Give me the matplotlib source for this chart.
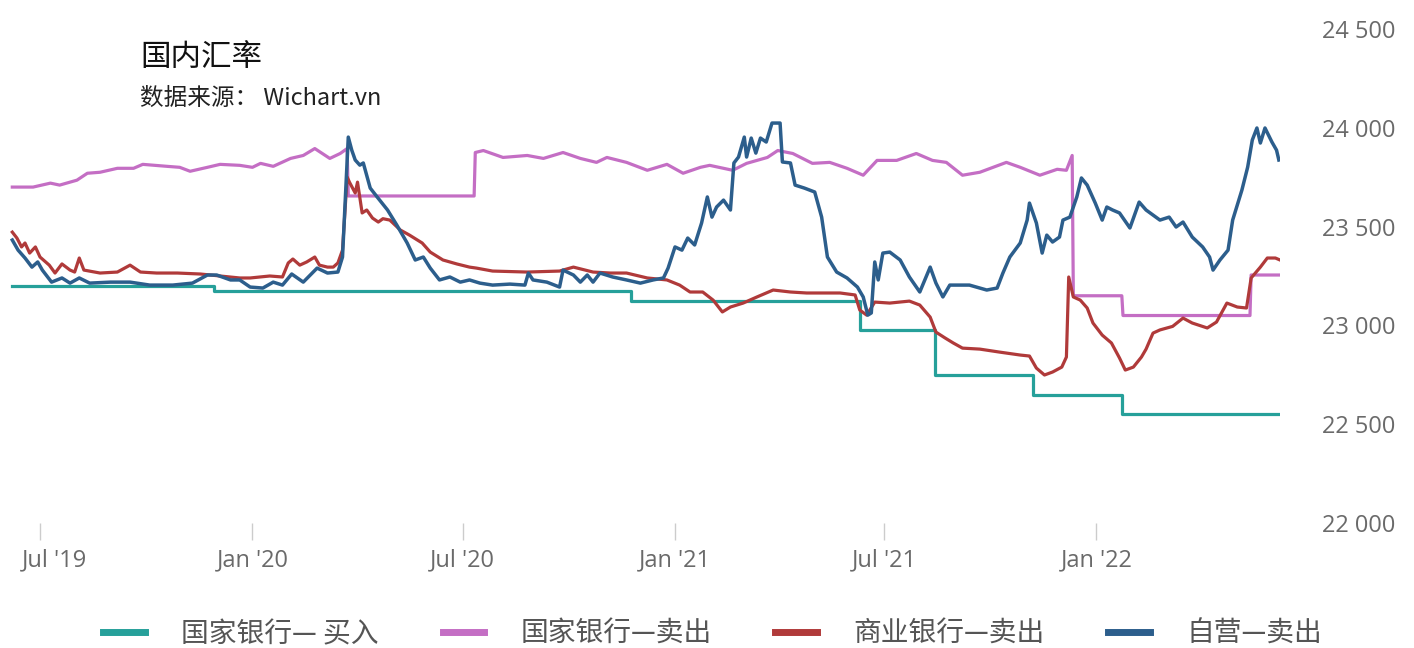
import matplotlib
matplotlib.use("Agg")
import matplotlib.pyplot as plt
import matplotlib.dates as mdates
import matplotlib.transforms as mtransforms
from matplotlib.ticker import FuncFormatter
import pandas as pd

plt.rcParams["font.family"] = ["Noto Sans CJK SC", "DejaVu Sans"]

# 国家银行—买入 (step series)
sbv_buy_dates = ["2019-06-07", "2019-11-29", "2020-11-24", "2021-06-10",
                 "2021-08-14", "2021-11-07", "2022-01-23", "2022-06-09"]
sbv_buy_vals = [23200, 23175, 23125, 22975, 22750, 22650, 22550, 22550]

# 国家银行—卖出
sbv_sell_dates = [
    "2019-06-07", "2019-06-25", "2019-07-10", "2019-07-18", "2019-08-02", "2019-08-11",
    "2019-08-22", "2019-09-06", "2019-09-20", "2019-09-28", "2019-10-19", "2019-10-30",
    "2019-11-08", "2019-11-23", "2019-12-04", "2019-12-21", "2020-01-01", "2020-01-08",
    "2020-01-19", "2020-02-03", "2020-02-14", "2020-02-24", "2020-03-08", "2020-03-17",
    "2020-03-23", "2020-03-24", "2020-07-11", "2020-07-12", "2020-07-19", "2020-08-05",
    "2020-08-26", "2020-09-09", "2020-09-26", "2020-10-11", "2020-10-25", "2020-11-03",
    "2020-11-20", "2020-12-08", "2020-12-25", "2021-01-08", "2021-01-23", "2021-01-31",
    "2021-02-20", "2021-03-04", "2021-03-22", "2021-03-31", "2021-04-13", "2021-04-30",
    "2021-05-15", "2021-05-30", "2021-06-13", "2021-06-25", "2021-07-12", "2021-07-29",
    "2021-08-12", "2021-08-24", "2021-09-07", "2021-09-22", "2021-10-15", "2021-10-27",
    "2021-11-13", "2021-11-28", "2021-12-06", "2021-12-11", "2021-12-12", "2022-01-23",
    "2022-01-24", "2022-05-14", "2022-05-15", "2022-06-09",
]
sbv_sell_vals = [
    23700, 23700, 23720, 23710, 23735, 23770,
    23775, 23795, 23795, 23815, 23805, 23800,
    23780, 23800, 23815, 23810, 23800, 23820,
    23805, 23845, 23860, 23895, 23845, 23870,
    23895, 23655, 23655, 23875, 23885, 23850,
    23860, 23845, 23875, 23845, 23825, 23850,
    23825, 23785, 23815, 23770, 23800, 23810,
    23785, 23820, 23850, 23885, 23870, 23820,
    23825, 23795, 23760, 23835, 23835, 23870,
    23835, 23825, 23760, 23775, 23825, 23800,
    23760, 23790, 23785, 23860, 23150, 23150,
    23050, 23050, 23255, 23255,
]

# 商业银行—卖出
bank_sell_dates = [
    "2019-06-07", "2019-06-11", "2019-06-15", "2019-06-18", "2019-06-22", "2019-06-27",
    "2019-07-01", "2019-07-09", "2019-07-14", "2019-07-20", "2019-07-27", "2019-07-31",
    "2019-08-04", "2019-08-08", "2019-08-22", "2019-09-06", "2019-09-17", "2019-09-26",
    "2019-10-10", "2019-10-28", "2019-11-17", "2019-12-04", "2019-12-21", "2019-12-30",
    "2020-01-16", "2020-01-27", "2020-02-01", "2020-02-05", "2020-02-11", "2020-02-17",
    "2020-02-24", "2020-02-28", "2020-03-06", "2020-03-11", "2020-03-15", "2020-03-19",
    "2020-03-23", "2020-03-25", "2020-03-30", "2020-04-01", "2020-04-05", "2020-04-09",
    "2020-04-14", "2020-04-19", "2020-04-23", "2020-04-29", "2020-05-08", "2020-05-16",
    "2020-05-27", "2020-06-03", "2020-06-14", "2020-06-26", "2020-07-07", "2020-07-13",
    "2020-07-27", "2020-08-26", "2020-09-23", "2020-10-05", "2020-10-22", "2020-11-06",
    "2020-11-20", "2020-12-08", "2020-12-25", "2021-01-05", "2021-01-14", "2021-01-25",
    "2021-02-03", "2021-02-11", "2021-02-18", "2021-03-01", "2021-03-13", "2021-03-27",
    "2021-04-11", "2021-04-25", "2021-05-09", "2021-05-24", "2021-06-06", "2021-06-10",
    "2021-06-16", "2021-06-23", "2021-07-06", "2021-07-23", "2021-08-01", "2021-08-10",
    "2021-08-15", "2021-08-23", "2021-08-30", "2021-09-07", "2021-09-22", "2021-10-09",
    "2021-10-27", "2021-11-04", "2021-11-10", "2021-11-17", "2021-11-24", "2021-12-02",
    "2021-12-06", "2021-12-08", "2021-12-12", "2021-12-18", "2021-12-24", "2021-12-29",
    "2022-01-06", "2022-01-14", "2022-01-21", "2022-01-26", "2022-02-02", "2022-02-09",
    "2022-02-13", "2022-02-19", "2022-02-25", "2022-03-08", "2022-03-17", "2022-03-25",
    "2022-04-07", "2022-04-15", "2022-04-24", "2022-05-03", "2022-05-11", "2022-05-15",
    "2022-05-23", "2022-05-29", "2022-06-05", "2022-06-09",
]
bank_sell_vals = [
    23472, 23442, 23397, 23417, 23366, 23397,
    23346, 23305, 23265, 23311, 23280, 23270,
    23341, 23280, 23265, 23270, 23305, 23270,
    23265, 23265, 23260, 23250, 23240, 23240,
    23250, 23245, 23316, 23336, 23305, 23321,
    23346, 23305, 23295, 23295, 23316, 23381,
    23751, 23725, 23670, 23725, 23569, 23584,
    23543, 23523, 23540, 23533, 23483, 23457,
    23417, 23371, 23331, 23311, 23295, 23290,
    23275, 23270, 23275, 23295, 23270, 23265,
    23265, 23240, 23230, 23204, 23169, 23169,
    23128, 23068, 23093, 23113, 23144, 23179,
    23169, 23164, 23164, 23164, 23154, 23078,
    23052, 23118, 23113, 23123, 23103, 23042,
    22966, 22936, 22911, 22885, 22880, 22865,
    22850, 22845, 22784, 22749, 22764, 22789,
    22840, 23245, 23144, 23128, 23088, 23012,
    22951, 22911, 22835, 22774, 22789, 22840,
    22880, 22961, 22977, 22995, 23037, 23012,
    22987, 23017, 23113, 23093, 23088, 23240,
    23295, 23341, 23341, 23331,
]

# 自营—卖出
free_sell_dates = [
    "2019-06-07", "2019-06-12", "2019-06-18", "2019-06-24", "2019-06-29", "2019-07-03",
    "2019-07-11", "2019-07-20", "2019-07-27", "2019-08-04", "2019-08-13", "2019-08-31",
    "2019-09-17", "2019-10-04", "2019-10-24", "2019-11-10", "2019-11-23", "2019-12-01",
    "2019-12-13", "2019-12-21", "2019-12-30", "2020-01-10", "2020-01-19", "2020-01-27",
    "2020-02-04", "2020-02-14", "2020-02-26", "2020-03-06", "2020-03-15", "2020-03-19",
    "2020-03-24", "2020-03-27", "2020-03-30", "2020-04-03", "2020-04-06", "2020-04-12",
    "2020-04-18", "2020-04-27", "2020-05-05", "2020-05-14", "2020-05-21", "2020-05-28",
    "2020-06-03", "2020-06-11", "2020-06-20", "2020-06-29", "2020-07-07", "2020-07-16",
    "2020-07-27", "2020-08-11", "2020-08-24", "2020-08-27", "2020-08-31", "2020-09-12",
    "2020-09-23", "2020-09-26", "2020-10-05", "2020-10-11", "2020-10-17", "2020-10-22",
    "2020-10-28", "2020-11-08", "2020-11-20", "2020-12-02", "2020-12-13", "2020-12-22",
    "2020-12-26", "2021-01-01", "2021-01-07", "2021-01-12", "2021-01-18", "2021-01-24",
    "2021-01-29", "2021-02-02", "2021-02-06", "2021-02-12", "2021-02-18", "2021-02-21",
    "2021-02-25", "2021-03-02", "2021-03-04", "2021-03-08", "2021-03-12", "2021-03-16",
    "2021-03-21", "2021-03-26", "2021-04-02", "2021-04-04", "2021-04-11", "2021-04-15",
    "2021-04-23", "2021-05-02", "2021-05-08", "2021-05-13", "2021-05-21", "2021-05-30",
    "2021-06-08", "2021-06-13", "2021-06-17", "2021-06-20", "2021-06-23", "2021-06-26",
    "2021-06-30", "2021-07-06", "2021-07-15", "2021-07-23", "2021-08-01", "2021-08-10",
    "2021-08-15", "2021-08-21", "2021-08-27", "2021-09-13", "2021-09-28", "2021-10-07",
    "2021-10-12", "2021-10-18", "2021-10-27", "2021-11-02", "2021-11-04", "2021-11-10",
    "2021-11-15", "2021-11-19", "2021-11-24", "2021-11-30", "2021-12-03", "2021-12-09",
    "2021-12-15", "2021-12-19", "2021-12-24", "2021-12-31", "2022-01-06", "2022-01-10",
    "2022-01-15", "2022-01-21", "2022-01-30", "2022-02-07", "2022-02-13", "2022-02-25",
    "2022-03-05", "2022-03-11", "2022-03-17", "2022-03-25", "2022-04-03", "2022-04-09",
    "2022-04-12", "2022-04-18", "2022-04-25", "2022-04-29", "2022-05-07", "2022-05-12",
    "2022-05-16", "2022-05-20", "2022-05-23", "2022-05-27", "2022-06-02", "2022-06-06",
    "2022-06-08",
]
free_sell_vals = [
    23432, 23381, 23341, 23295, 23321, 23280,
    23219, 23240, 23214, 23240, 23214, 23219,
    23219, 23204, 23204, 23214, 23255, 23255,
    23230, 23230, 23194, 23189, 23219, 23204,
    23260, 23219, 23290, 23265, 23270, 23346,
    23953, 23887, 23837, 23811, 23822, 23695,
    23650, 23584, 23508, 23417, 23331, 23346,
    23290, 23230, 23245, 23219, 23230, 23214,
    23204, 23209, 23204, 23265, 23230, 23219,
    23194, 23280, 23255, 23219, 23255, 23219,
    23265, 23245, 23230, 23214, 23230, 23240,
    23290, 23397, 23381, 23442, 23407, 23518,
    23650, 23548, 23599, 23634, 23584, 23822,
    23852, 23953, 23852, 23948, 23872, 23948,
    23928, 24024, 24024, 23827, 23822, 23710,
    23695, 23675, 23548, 23346, 23270, 23240,
    23194, 23144, 23052, 23063, 23321, 23230,
    23366, 23371, 23331, 23245, 23169, 23295,
    23214, 23144, 23204, 23204, 23179, 23189,
    23265, 23346, 23417, 23533, 23619, 23518,
    23366, 23457, 23422, 23447, 23533, 23548,
    23650, 23746, 23710, 23619, 23533, 23599,
    23584, 23569, 23493, 23624, 23584, 23533,
    23548, 23498, 23523, 23447, 23397, 23346,
    23280, 23331, 23381, 23533, 23685, 23801,
    23938, 23999, 23923, 23999, 23928, 23887,
    23837,
]

series_names = ["国家银行— 买入", "国家银行—卖出", "商业银行—卖出", "自营—卖出"]
colors = ["#26a09a", "#c46ec4", "#b03a3a", "#2c5e8c"]

fig = plt.figure(figsize=(14.14, 6.48), dpi=100)
ax = fig.add_axes([10 / 1414, 125 / 648, 1270 / 1414, 494 / 648])

ax.plot(pd.to_datetime(sbv_buy_dates), sbv_buy_vals, color=colors[0], lw=2.3,
        drawstyle="steps-post", label=series_names[0])
ax.plot(pd.to_datetime(sbv_sell_dates), sbv_sell_vals, color=colors[1], lw=2.3,
        label=series_names[1])
ax.plot(pd.to_datetime(bank_sell_dates), bank_sell_vals, color=colors[2], lw=2.3,
        label=series_names[2])
ax.plot(pd.to_datetime(free_sell_dates), free_sell_vals, color=colors[3], lw=2.5,
        label=series_names[3])

ax.set_xlim(pd.Timestamp("2019-06-05"), pd.Timestamp("2022-06-09"))
ax.set_ylim(22000, 24500)

for s in ax.spines.values():
    s.set_visible(False)

# right-side value axis
ax.yaxis.tick_right()
ax.set_yticks([22000, 22500, 23000, 23500, 24000, 24500])
ax.yaxis.set_major_formatter(FuncFormatter(lambda v, p: f"{int(v):,}".replace(",", " ")))
ax.tick_params(axis="y", length=0, pad=30, labelsize=17, labelcolor="#6a6a6a")
for lab in ax.get_yticklabels():
    lab.set_fontfamily(["Open Sans", "DejaVu Sans"])

# date axis
ax.xaxis.set_major_locator(mdates.MonthLocator(bymonth=[1, 7]))
ax.xaxis.set_major_formatter(mdates.DateFormatter("%b '%y"))
ax.tick_params(axis="x", length=12, width=1, color="#cccccc", pad=6,
               labelsize=17, labelcolor="#6a6a6a")
xlabels = ax.get_xticklabels()
for lab in xlabels:
    lab.set_fontfamily(["Open Sans", "DejaVu Sans"])
# first label is pushed right so it stays inside the chart
xlabels[0].set_transform(xlabels[0].get_transform()
                         + mtransforms.ScaledTranslation(0.14, 0, fig.dpi_scale_trans))

fig.text(140 / 1414, 1 - 58 / 648, "国内汇率", fontsize=22, color="#111111",
         ha="left", va="center")
fig.text(140 / 1414, 1 - 98 / 648, "数据来源： Wichart.vn", fontsize=17,
         color="#222222", ha="left", va="center")

leg = fig.legend(loc="lower center", bbox_to_anchor=(0.504, -0.04), ncol=4,
                 frameon=False, fontsize=20, handlelength=1.5, handletextpad=1.3,
                 columnspacing=2.3)
for line in leg.get_lines():
    line.set_linewidth(5)
for t in leg.get_texts():
    t.set_color("#555555")

fig.savefig("out.png", dpi=100)
